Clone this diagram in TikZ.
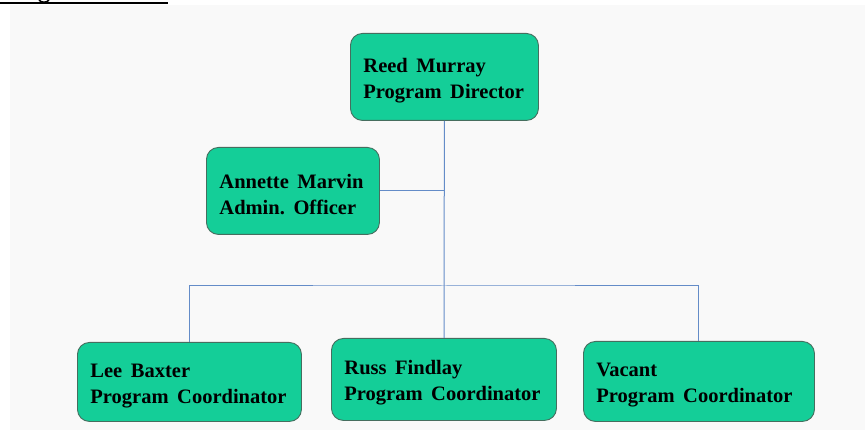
\documentclass[tikz,border=0pt]{standalone}
\usepackage{fontspec}
\setmainfont{Liberation Serif}
\definecolor{boxfill}{RGB}{20,206,152}
\definecolor{boxborder}{RGB}{70,110,95}
\definecolor{connline}{RGB}{100,140,200}
\definecolor{bggray}{RGB}{249,249,249}
\newcommand\wsp{\hspace{0.42em}}
\newcommand\topstrut{\rule{0pt}{21pt}}
\tikzset{
  box/.style={draw=boxborder, fill=boxfill, rounded corners=12pt, line width=0.9pt,
    inner xsep=13pt, inner ysep=0pt, align=left, anchor=north west,
    font=\bfseries\fontsize{20.5}{26}\selectfont},
  conn/.style={draw=connline, line width=1pt},
}
\begin{document}
\begin{tikzpicture}[x=1pt,y=-1pt]
\useasboundingbox (0,0) rectangle (865,430);
\fill[white] (0,0) rectangle (865,430);
\fill[bggray] (10,5) rectangle (865,430);
% cropped title underline
\draw[black, line width=2.5pt] (0,3) -- (168,3);
\draw[black, line width=1.6pt] (39,0) .. controls (41,3) and (47,3) .. (49,0);
% boxes
\node[box, text width=162pt, minimum height=87pt] (reed) at (350,33) {\topstrut Reed\wsp Murray\\Program\wsp Director};
\node[box, text width=147pt, minimum height=87pt] (ann) at (206,147) {\topstrut Annette\wsp Marvin\\Admin.\wsp Officer};
\node[box, text width=198pt, minimum height=79pt] (lee) at (77,342) {\topstrut Lee\wsp Baxter\\Program\wsp Coordinator};
\node[box, text width=199pt, minimum height=82pt] (russ) at (331,338) {\topstrut Russ\wsp Findlay\\Program\wsp Coordinator};
\node[box, text width=205pt, minimum height=80pt] (vac) at (583,341) {\topstrut Vacant\\Program\wsp Coordinator};
% connectors
\coordinate (bus) at (444,286);
\draw[conn] (reed.south) -- (bus) -- (bus |- russ.north);
\draw[conn] (ann.east) -- (ann.east -| reed.south);
\draw[conn] (lee.north) |- (bus) -| (vac.north);
\end{tikzpicture}
\end{document}
